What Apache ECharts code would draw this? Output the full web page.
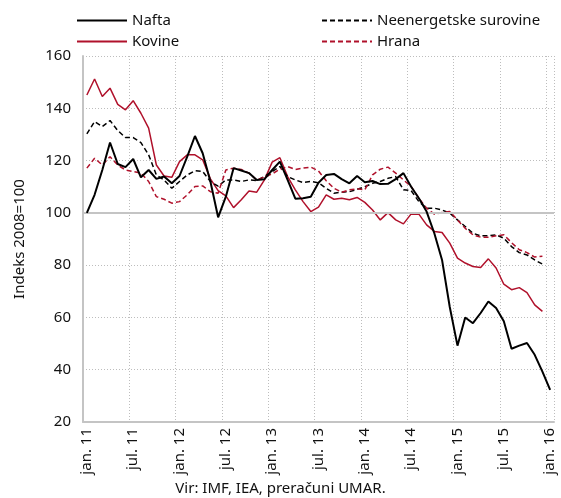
<!DOCTYPE html>
<html>
<head>
<meta charset="utf-8">
<script src="https://cdn.jsdelivr.net/npm/echarts@6/dist/echarts.min.js"></script>
<style>
  html, body { margin: 0; padding: 0; background: #fff; }
  #main { width: 561px; height: 498px; }
</style>
</head>
<body>
<div id="main"></div>
<script>
// mesečni indeksi 2008=100, jan. 2011 - jan. 2016
const months = ['jan.', 'feb.', 'mar.', 'apr.', 'maj', 'jun.', 'jul.', 'avg.', 'sep.', 'okt.', 'nov.', 'dec.']
const years = ['11', '12', '13', '14', '15', '16']

const nafta = [
  100, 106.9, 116.4, 126.9, 118.7, 117.5, 120.6, 113.6, 116.4, 113, 113.9, 111.3,
  114.1, 121.5, 129.4, 122.8, 112, 98.3, 106.2, 117.1, 116.2, 115.2, 112.6, 112.9,
  116.4, 119.6, 112.6, 105.4, 105.6, 106.2, 111.5, 114.5, 114.9, 112.9, 111.3, 114.1,
  111.7, 112.2, 111, 111.1, 112.9, 115.2, 110, 105.6, 100.5, 92.2, 82, 64,
  49.2, 60, 57.8, 61.7, 66.1, 63.6, 58.5, 48, 49.2, 50.2, 45.7, 39.3,
  32.3
]
const kovine = [
  145.1, 151.2, 144.5, 147.7, 141.5, 139.4, 142.9, 138.1, 132.4, 118.3, 114.1, 113.6,
  119.6, 122.2, 122.2, 120.3, 113, 108.5, 106.5, 102, 105, 108.4, 107.9, 112.6,
  119.4, 121.1, 113.9, 108.8, 104.3, 100.5, 102.2, 106.9, 105.2, 105.6, 105, 105.9,
  104, 101.1, 97.3, 100.1, 97.3, 95.8, 99.6, 99.5, 95.4, 92.9, 92.5, 88.4,
  82.7, 80.8, 79.5, 79.1, 82.4, 78.9, 72.7, 70.6, 71.4, 69.5, 64.8, 62.3
]
const neenergetske = [
  130.2, 134.9, 133, 135.3, 131.5, 128.8, 128.8, 126.9, 122.2, 114.5, 112.6, 109.4,
  112, 114.5, 116.1, 115.8, 112, 110.2, 112.6, 112.6, 112, 112.6, 112.4, 113.9,
  115.8, 117.7, 113.9, 112.6, 111.6, 112, 111.5, 109.4, 107.5, 107.9, 108.1, 109,
  110, 111.3, 112, 113.2, 113.9, 108.8, 108.5, 104.3, 101.8, 101.8, 101.1, 99.9,
  97.3, 94.8, 92.2, 91.2, 91.2, 91.6, 90.3, 87.1, 84.8, 83.9, 82, 80.4
]
const hrana = [
  117.1, 120.9, 118.3, 121.5, 118.3, 116.4, 115.8, 115.2, 112, 106.2, 105.2, 103.7,
  104.3, 106.9, 110.1, 110.3, 108.1, 107.5, 116.4, 117.1, 116.6, 115.2, 112.6, 113.7,
  114.9, 116.7, 117.7, 116.6, 117.1, 117.5, 116, 112.3, 109.4, 107.9, 108.8, 109.2,
  108.8, 114.5, 116.7, 117.5, 115.2, 112.6, 110.1, 105.6, 101.8, 99.5, 100.1, 100.5,
  97.3, 94.1, 91.6, 90.7, 90.7, 91.2, 91.6, 88.6, 85.9, 84.8, 83.1, 83.4
]

const categories = []
years.forEach(y => months.forEach(m => categories.push(m + ' ' + y)))
categories.length = nafta.length

const red = '#b0112b'
const font = 'Noto Sans'

const chart = echarts.init(document.getElementById('main'))
const legendBase = {
  orient: 'vertical',
  top: 8,
  itemWidth: 50,
  itemHeight: 14,
  itemGap: 6,
  itemStyle: { opacity: 0 },
  textStyle: { fontFamily: font, fontSize: 15, color: '#111' }
}
const option = {
  animation: false,
  backgroundColor: '#fff',
  textStyle: { fontFamily: font },
  legend: [
    Object.assign({}, legendBase, { left: 71, data: ['Nafta', 'Kovine'] }),
    Object.assign({}, legendBase, { left: 316, data: ['Neenergetske surovine', 'Hrana'] })
  ],
  grid: { left: 83, right: 7, top: 56, bottom: 76 },
  xAxis: {
    type: 'category',
    data: categories,
    boundaryGap: true,
    axisLine: { lineStyle: { color: '#c4c4c4', width: 2 } },
    axisTick: { show: false },
    axisLabel: {
      interval: 5,
      rotate: 90,
      margin: 6,
      fontFamily: font,
      fontSize: 15,
      color: '#111'
    },
    splitLine: {
      show: true,
      interval: 5,
      lineStyle: { color: '#bdbdbd', type: [1, 2], width: 1 }
    }
  },
  yAxis: {
    type: 'value',
    min: 20,
    max: 160,
    interval: 20,
    name: 'Indeks 2008=100',
    nameLocation: 'middle',
    nameRotate: 90,
    nameGap: 56,
    nameTextStyle: { fontFamily: font, fontSize: 15, color: '#111' },
    axisLine: { show: true, lineStyle: { color: '#c4c4c4', width: 2 } },
    axisTick: { show: false },
    axisLabel: { fontFamily: font, fontSize: 15, color: '#111', margin: 12 },
    splitLine: { lineStyle: { color: '#bdbdbd', type: [1, 2], width: 1 } }
  },
  series: [
    {
      name: 'Nafta',
      type: 'line',
      data: nafta,
      symbol: 'none',
      z: 5,
      lineStyle: { color: '#000', width: 2 },
      itemStyle: { color: '#000' },
      markLine: {
        silent: true,
        symbol: 'none',
        label: { show: false },
        lineStyle: { color: '#c4c4c4', width: 2, type: 'solid' },
        data: [{ yAxis: 100 }]
      }
    },
    {
      name: 'Kovine',
      type: 'line',
      data: kovine,
      symbol: 'none',
      lineStyle: { color: red, width: 1.5 },
      itemStyle: { color: red }
    },
    {
      name: 'Neenergetske surovine',
      type: 'line',
      data: neenergetske,
      symbol: 'none',
      lineStyle: { color: '#000', width: 1.5, type: [5, 3] },
      itemStyle: { color: '#000' }
    },
    {
      name: 'Hrana',
      type: 'line',
      data: hrana,
      symbol: 'none',
      lineStyle: { color: red, width: 1.5, type: [5, 3] },
      itemStyle: { color: red }
    }
  ],
  graphic: [
    {
      type: 'text',
      left: 'center',
      bottom: 2,
      style: {
        text: 'Vir: IMF, IEA, preračuni UMAR.',
        font: '15px "Noto Sans"',
        fill: '#111'
      }
    }
  ]
}
chart.setOption(option)
</script>
</body>
</html>
